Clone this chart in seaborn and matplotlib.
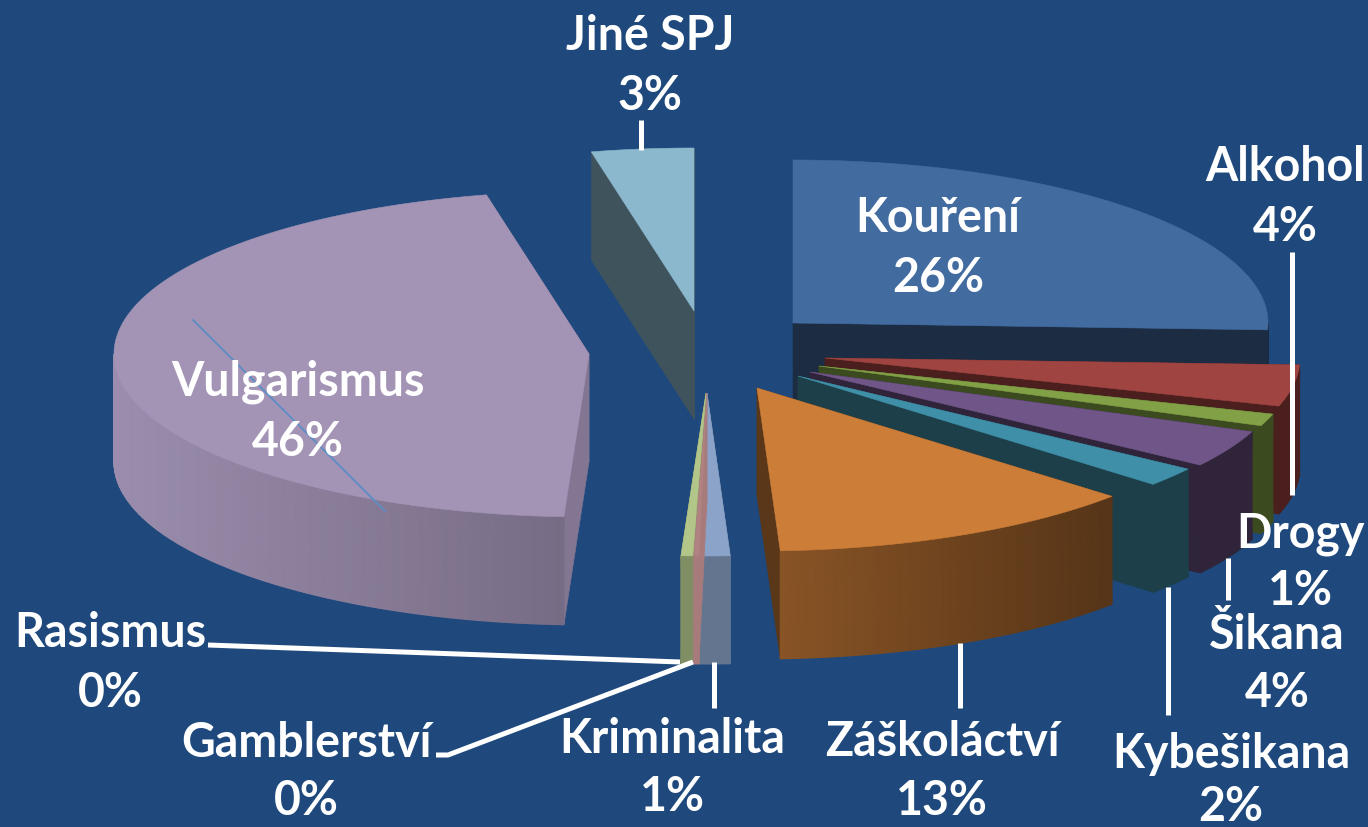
import numpy as np
import matplotlib
matplotlib.use("Agg")
import matplotlib.pyplot as plt
import seaborn as sns
from matplotlib.colors import LinearSegmentedColormap
from matplotlib.patches import Polygon

categories = ["Kouření", "Alkohol", "Drogy", "Šikana", "Kybešikana", "Záškoláctví",
              "Kriminalita", "Gamblerství", "Rasismus", "Vulgarismus", "Jiné SPJ"]
shares = [25.67, 4.1, 1.2, 3.7, 1.9, 12.65, 1.05, 0.17, 0.4, 45.69, 3.47]

top_colors = ["#426BA0", "#A04441", "#82A046", "#6F5588", "#3F8FA8", "#CC7D38",
              "#8BA3C8", "#B08282", "#B2C68A", "#A394B6", "#8CB8CE"]
# shade of the outer wall, left end and right end (fraction of the top colour)
wall_left = [0.40, 0.46, 0.46, 0.42, 0.44, 0.67, 0.72, 0.95, 0.72, 0.95, 0.45]
wall_right = [0.40, 0.46, 0.46, 0.42, 0.44, 0.42, 0.72, 0.95, 0.72, 0.73, 0.45]
face_shade = [0.42, 0.46, 0.46, 0.42, 0.44, 0.44, 0.72, 0.95, 0.72, 0.80, 0.45]

# where each exploded slice has its tip
tips_x = [793, 825, 819, 810, 798, 757, 707, 707, 706, 589, 694]
tips_y = [323, 358, 366, 372, 376, 388, 393, 393, 393, 354, 311]
RX, RY, DEPTH = 475, 163, 108
draw_order = [0, 1, 2, 3, 4, 5, 10, 9, 8, 6, 7]

BG = "#1F497D"

sns.set_theme(style="white")
plt.rcParams["font.family"] = ["Lato", "DejaVu Sans"]
palette = sns.color_palette(top_colors)

fig = plt.figure(figsize=(13.68, 8.27), dpi=100, facecolor=BG)
ax = fig.add_axes([0, 0, 1, 1])
ax.axis("off")


def rim(i, a):
    x = tips_x[i] + RX * np.sin(np.radians(a))
    y = tips_y[i] - RY * np.cos(np.radians(a))
    return x, y


def shaded(color, f):
    return tuple(c * f for c in color)


edges = np.concatenate([[0], np.cumsum(shares)]) / sum(shares) * 360
z = 1

for i in draw_order:
    a0, a1 = edges[i], edges[i + 1]
    col = palette[i]
    tx, ty = tips_x[i], tips_y[i]

    # the two cut faces
    for a in (a0, a1):
        x, y = rim(i, a)
        fc = shaded(col, face_shade[i])
        ax.add_patch(Polygon([(tx, ty), (x, y), (x, y + DEPTH), (tx, ty + DEPTH)],
                             fc=fc, ec=fc, lw=0.4, zorder=z))
    z += 1

    # outer wall, only the part turned to the viewer
    lo, hi = max(a0, 90), min(a1, 270)
    if hi > lo:
        steps = np.linspace(lo, hi, max(int((hi - lo) * 2), 4))
        xs, ys = rim(i, steps)
        X = np.vstack([xs, xs])
        Y = np.vstack([ys, ys + DEPTH])
        t = (xs - xs.min()) / (xs.max() - xs.min())
        cmap = LinearSegmentedColormap.from_list(
            "wall", [shaded(col, wall_left[i]), shaded(col, wall_right[i])])
        ax.pcolormesh(X, Y, np.vstack([t, t]), cmap=cmap, vmin=0, vmax=1,
                      shading="gouraud", zorder=z)
    z += 1

    # top
    angles = np.linspace(a0, a1, max(int(a1 - a0) * 2, 3))
    xs, ys = rim(i, angles)
    pts = [(tx, ty)] + list(zip(xs, ys))
    ax.add_patch(Polygon(pts, fc=col, ec=col, lw=0.4, zorder=z))
    z += 1

ax.set_xlim(0, 1368)
ax.set_ylim(827, 0)

# leader lines
lead_x = [[641, 641], [1292, 1292], [1228, 1228], [1168, 1168], [960, 960],
          [714, 714], [436, 448, 693], [208, 680]]
lead_y = [[120, 150], [252, 495], [558, 600], [587, 715], [643, 708],
          [662, 708], [755, 755, 662], [645, 662]]
for lx, ly in zip(lead_x, lead_y):
    ax.plot(lx, ly, color="white", lw=3.6, solid_capstyle="butt", zorder=z)
ax.plot([193, 385], [320, 511], color="#5F8DC4", lw=1.4, zorder=z)
z += 1

# labels
label_x = [938, 1285, 1300, 1277, 1231, 942, 672, 306, 110, 298, 650]
name_y = [218, 167, 534, 635, 754, 742, 739, 743, 633, 382, 36]
pct_y = [278, 227, 591, 693, 807, 801, 797, 801, 693, 442, 96]
for name, share, lx, ny, py in zip(categories, shares, label_x, name_y, pct_y):
    ax.text(lx, ny, name, color="white", fontsize=33.5, fontweight="bold", ha="center", va="center", zorder=z)
    ax.text(lx, py, f"{share:.0f}%", color="white", fontsize=33.5, fontweight="bold", ha="center", va="center", zorder=z)

fig.savefig("out.png", dpi=100, facecolor=BG)
